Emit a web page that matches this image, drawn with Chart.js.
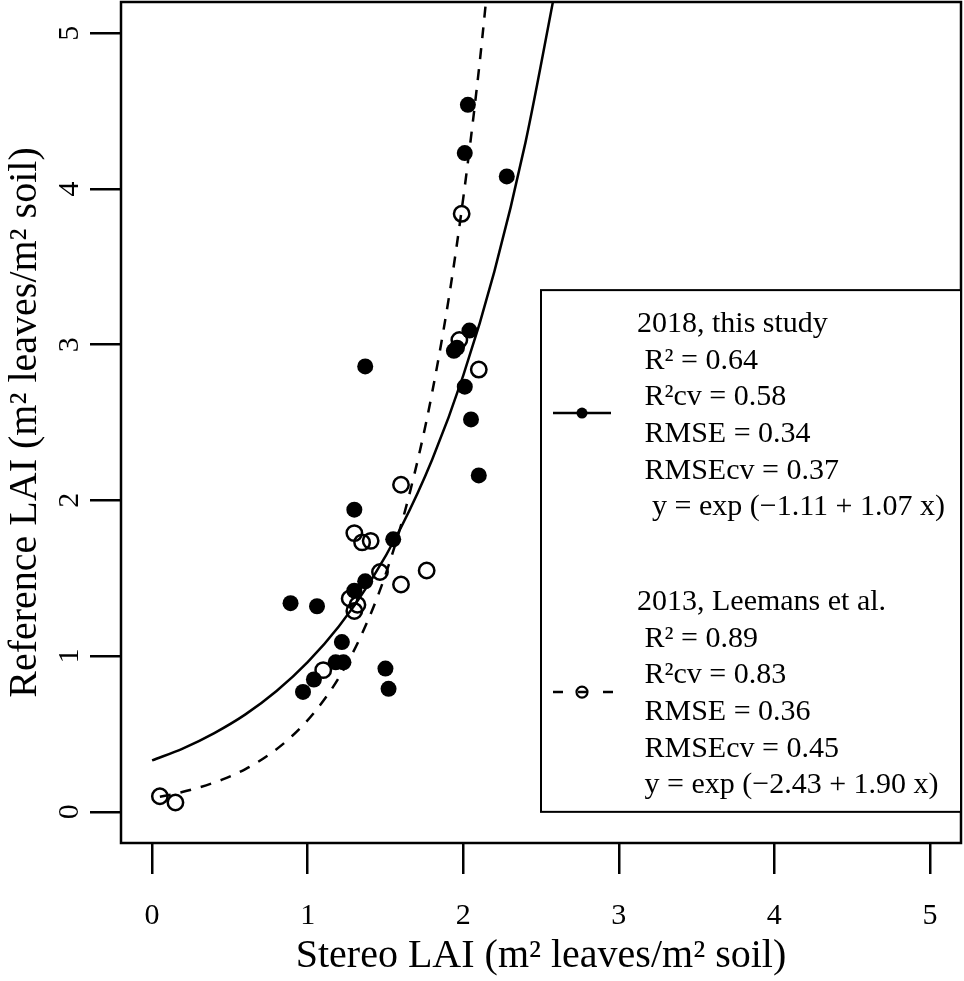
<!DOCTYPE html>
<html><head><meta charset="utf-8">
<script src="https://cdn.jsdelivr.net/npm/chart.js@4.4.0/dist/chart.umd.min.js"></script>
<style>html,body{margin:0;padding:0;background:#fff;} canvas{display:block;}</style>
</head><body>
<canvas id="c" width="964" height="981"></canvas>
<script>
// ---- data ----
const study2018X = [2.03, 2.01, 2.28, 2.04, 1.94, 1.96, 1.37, 2.01, 2.05, 2.10, 1.30, 1.55, 1.37, 1.30, 0.89, 1.06, 1.22, 1.18, 1.23, 1.04, 0.97, 1.50, 1.52];
const study2018Y = [4.54, 4.23, 4.08, 3.09, 2.96, 2.98, 2.86, 2.73, 2.52, 2.16, 1.94, 1.75, 1.48, 1.42, 1.34, 1.32, 1.09, 0.96, 0.96, 0.85, 0.77, 0.92, 0.79];
const leemans2013X = [1.99, 1.975, 2.10, 1.60, 1.30, 1.35, 1.405, 1.465, 1.60, 1.765, 1.27, 1.30, 1.32, 1.10, 0.05, 0.15];
const leemans2013Y = [3.84, 3.03, 2.84, 2.10, 1.79, 1.73, 1.74, 1.54, 1.46, 1.55, 1.37, 1.29, 1.33, 0.91, 0.10, 0.06];
// fitted curves (points along the drawn lines)
const fit2018X = [0, 0.2, 0.4, 0.6, 0.8, 1.0, 1.2, 1.4, 1.6, 1.8, 2.0, 2.2, 2.4, 2.6];
const fit2018Y = [0.330, 0.408, 0.506, 0.626, 0.776, 0.961, 1.190, 1.474, 1.826, 2.261, 2.801, 3.469, 4.297, 5.322];
const fit2013X = [0.05, 0.15, 0.3, 0.45, 0.6, 0.75, 0.9, 1.05, 1.2, 1.35, 1.5, 1.65, 1.8, 1.95, 2.1, 2.2];
const fit2013Y = [0.097, 0.117, 0.156, 0.207, 0.275, 0.366, 0.487, 0.647, 0.861, 1.145, 1.522, 2.024, 2.691, 3.579, 4.759, 5.755];
const tickValues = [0, 1, 2, 3, 4, 5];
const tickLabels = ['0', '1', '2', '3', '4', '5'];
const xTitle = 'Stereo LAI (m² leaves/m² soil)';
const yTitle = 'Reference LAI (m² leaves/m² soil)';
const legend1 = ['2018, this study', ' R² = 0.64', ' R²cv = 0.58', ' RMSE = 0.34', ' RMSEcv = 0.37', '  y = exp (−1.11 + 1.07 x)'];
const legend2 = ['2013, Leemans et al.', ' R² = 0.89', ' R²cv = 0.83', ' RMSE = 0.36', ' RMSEcv = 0.45', ' y = exp (−2.43 + 1.90 x)'];

const zip = (xs, ys) => xs.map((x, i) => ({x, y: ys[i]}));
const SERIF = '"Liberation Serif", "Times New Roman", serif';
Chart.defaults.font.family = SERIF;
Chart.defaults.color = '#000';

const boxPlugin = {
  id: 'box',
  afterDraw(chart) {
    const {ctx, chartArea: a, scales} = chart;
    ctx.save();
    ctx.strokeStyle = '#000';
    ctx.lineWidth = 2.5;
    ctx.strokeRect(a.left, a.top, a.right - a.left, a.bottom - a.top);
    // legend
    const L = scales.x.getPixelForValue(2.5);
    const T = scales.y.getPixelForValue(3.35);
    const B = scales.y.getPixelForValue(0);
    const R = a.right;
    ctx.fillStyle = '#fff';
    ctx.fillRect(L, T, R - L, B - T);
    ctx.lineWidth = 2;
    ctx.strokeRect(L, T, R - L, B - T);
    ctx.fillStyle = '#000';
    ctx.font = '30px ' + SERIF;
    ctx.textBaseline = 'alphabetic';
    ctx.textAlign = 'left';
    const lh = 36.6;
    legend1.forEach((s, i) => ctx.fillText(s, L + 96, T + 42 + i * lh));
    legend2.forEach((s, i) => ctx.fillText(s, L + 96, T + 320 + i * lh));
    // symbols
    ctx.lineWidth = 2.5;
    let sy = T + 123;
    ctx.beginPath(); ctx.moveTo(L + 12, sy); ctx.lineTo(L + 70, sy); ctx.stroke();
    ctx.beginPath(); ctx.arc(L + 41, sy, 5.5, 0, Math.PI * 2); ctx.fill();
    sy = T + 402;
    ctx.setLineDash([10, 15]);
    ctx.beginPath(); ctx.moveTo(L + 12, sy); ctx.lineTo(L + 72, sy); ctx.stroke();
    ctx.setLineDash([]);
    ctx.lineWidth = 2.2;
    ctx.beginPath(); ctx.arc(L + 41, sy, 5.5, 0, Math.PI * 2); ctx.stroke();
    ctx.restore();
  }
};

const zeroPad = s => { s.paddingTop = 0; s.paddingBottom = 0; s.paddingLeft = 0; s.paddingRight = 0; };

const axisCommon = {
  type: 'linear', min: -0.2, max: 5.2,
  afterBuildTicks: s => { s.ticks = tickValues.map(v => ({value: v})); },
  border: {display: false},
  grid: {display: true, drawOnChartArea: false, drawTicks: true, tickLength: 31, color: '#000', lineWidth: 2.5},
};

new Chart(document.getElementById('c'), {
  type: 'scatter',
  data: {
    datasets: [
      {type: 'line', data: zip(fit2018X, fit2018Y), borderColor: '#000', borderWidth: 2.5, pointRadius: 0, cubicInterpolationMode: 'monotone', fill: false},
      {type: 'line', data: zip(fit2013X, fit2013Y), borderColor: '#000', borderWidth: 2.5, borderDash: [11, 10], pointRadius: 0, cubicInterpolationMode: 'monotone', fill: false},
      {data: zip(study2018X, study2018Y), pointRadius: 8, pointBackgroundColor: '#000', pointBorderWidth: 0, borderColor: '#000'},
      {data: zip(leemans2013X, leemans2013Y), pointRadius: 7.7, pointBackgroundColor: 'rgba(0,0,0,0)', pointBorderColor: '#000', pointBorderWidth: 2.5}
    ]
  },
  options: {
    responsive: false,
    animation: false,
    events: [],
    layout: {autoPadding: false, padding: {top: 2, right: 3, left: 0, bottom: 0}},
    plugins: {legend: {display: false}, tooltip: {enabled: false}},
    scales: {
      x: Object.assign({}, axisCommon, {
        position: 'bottom',
        afterFit: s => { s.height = 138; zeroPad(s); },
        ticks: {padding: 24, font: {size: 30}, color: '#000', maxRotation: 0, minRotation: 0, callback: v => tickLabels[tickValues.indexOf(v)]},
        title: {display: true, text: xTitle, font: {size: 40, lineHeight: 1}, color: '#000', padding: {top: 0, bottom: 5}}
      }),
      y: Object.assign({}, axisCommon, {
        position: 'left',
        afterFit: s => { s.width = 121; zeroPad(s); },
        ticks: {padding: 12, font: {size: 30}, color: '#000', minRotation: 90, maxRotation: 90, crossAlign: 'center', callback: v => tickLabels[tickValues.indexOf(v)]},
        title: {display: true, text: yTitle, font: {size: 40, lineHeight: 1}, color: '#000', padding: {top: 5, bottom: 0}}
      })
    }
  },
  plugins: [boxPlugin]
});
</script>
</body></html>
